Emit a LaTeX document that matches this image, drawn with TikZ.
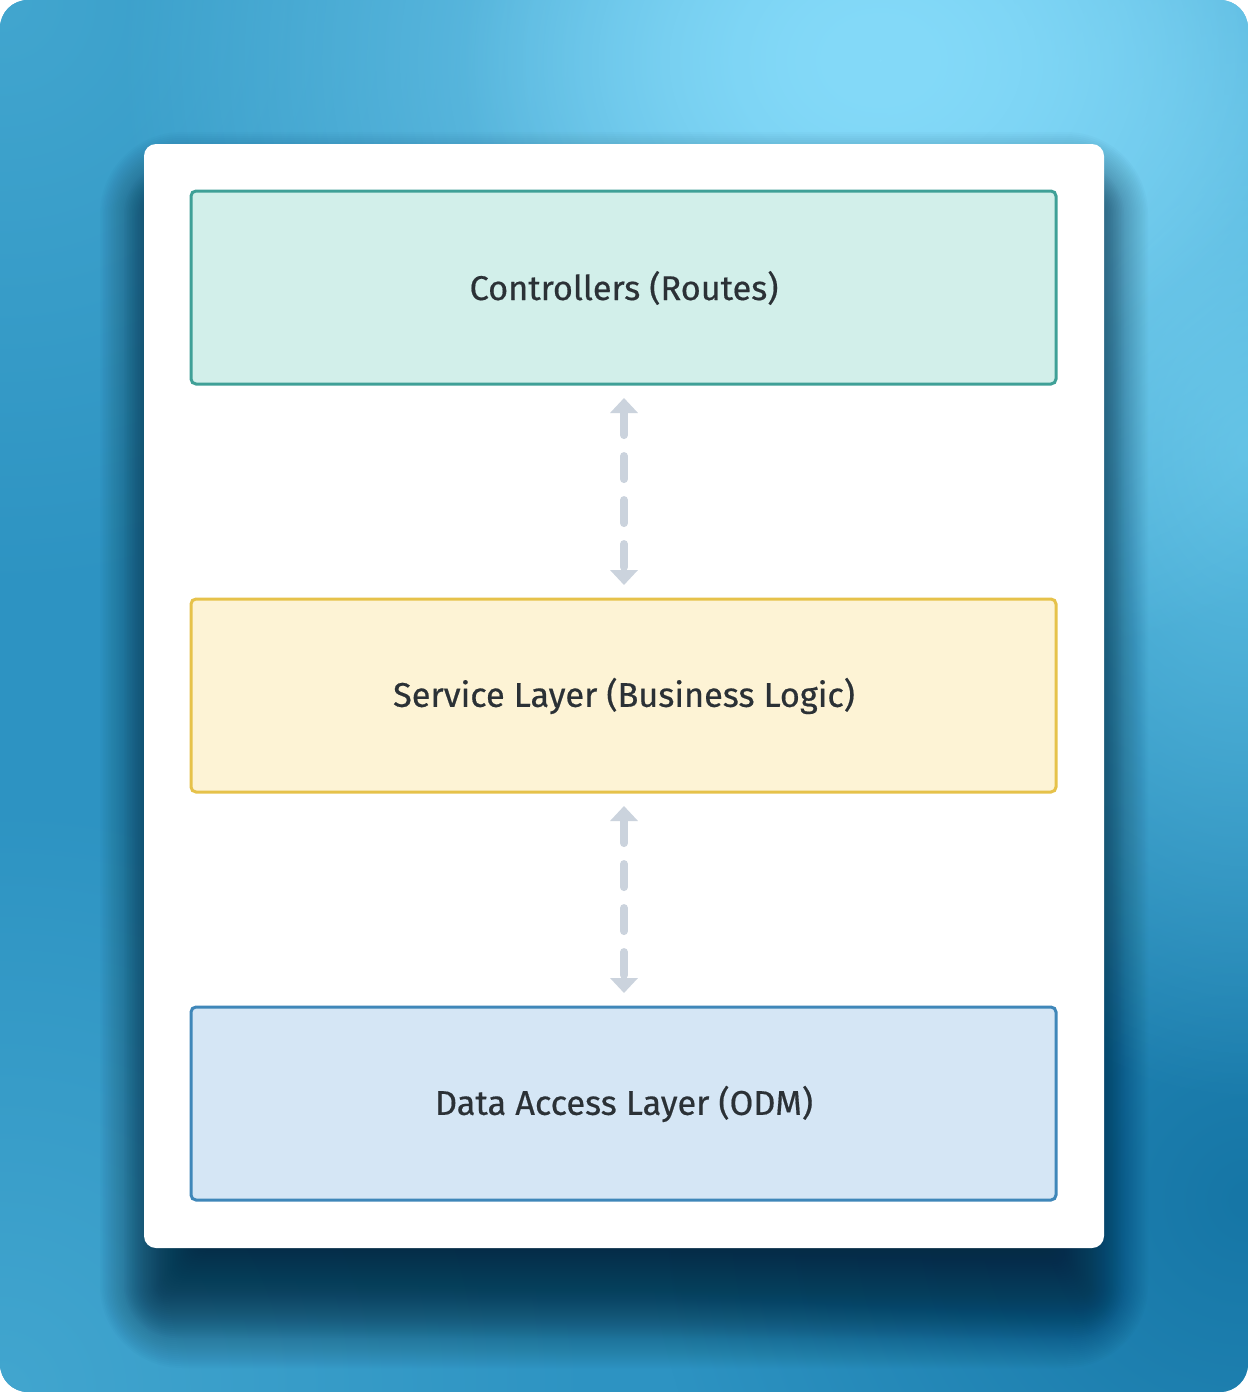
\documentclass[tikz,border=0pt]{standalone}
\usepackage{fontspec}
\setmainfont{Fira Sans}
\newfontfamily\lblfont{Fira Sans}[FakeBold=0.5]
\usetikzlibrary{arrows.meta,fadings}
\definecolor{bgbase}{HTML}{2D93C2}
\definecolor{bgglow}{HTML}{84DAF9}
\definecolor{bgright}{HTML}{5CBDE1}
\definecolor{bgleft}{HTML}{42A6CF}
\definecolor{bgdark}{HTML}{1676A6}
\definecolor{shadowcol}{HTML}{052C44}
\definecolor{txt}{HTML}{2B3136}
\definecolor{tealB}{HTML}{3FA097}
\definecolor{tealF}{HTML}{D2EFEA}
\definecolor{yelB}{HTML}{E6C24A}
\definecolor{yelF}{HTML}{FDF3D5}
\definecolor{bluB}{HTML}{3F87B9}
\definecolor{bluF}{HTML}{D5E6F5}
\definecolor{arrowcol}{HTML}{CBD3DD}
\tikzfading[name=glowfade, inner color=transparent!0, outer color=transparent!100]
\begin{document}
\begin{tikzpicture}[x=1pt,y=-1pt,
  layerbox/.style={draw=#1B, fill=#1F, line width=3pt, rounded corners=5pt},
  layertext/.style={text=txt, font=\lblfont\fontsize{34.3}{39}\selectfont},
  conn/.style={arrowcol, line width=8pt, line cap=round, dash pattern=on 23pt off 21pt,
    {Triangle[width=27pt,length=15pt]}-{Triangle[width=27pt,length=15pt]}}]
\useasboundingbox (0,0) rectangle (1248,1392);
\begin{scope}
  \clip[rounded corners=28pt] (0,0) rectangle (1248,1392);
  \fill[bgbase] (0,0) rectangle (1248,1392);
  \fill[bgleft, path fading=glowfade] (0,0) circle (600);
  \fill[bgleft, path fading=glowfade] (0,1392) circle (600);
  \fill[bgdark, path fading=glowfade] (1248,1200) circle (600);
  \fill[bgright, path fading=glowfade] (1248,450) ellipse (450 and 650);
  \fill[bgglow, path fading=glowfade] (880,60) ellipse (760 and 620);
  \fill[bgglow, path fading=glowfade] (880,60) ellipse (420 and 330);
  \foreach \i in {0,...,59}{
    \pgfmathsetmacro{\e}{70-\i*2}
    \pgfmathsetmacro{\ex}{\e*0.8}
    \pgfmathsetmacro{\op}{\i<15 ? 0.018 : 0.04}
    \pgfmathsetmacro{\rr}{12+max(\e,0)}
    \fill[shadowcol, opacity=\op, rounded corners=\rr pt]
      (156-\ex,144-\e+58) rectangle (1092+\ex,1248+\e+50);
  }
\end{scope}
\node[draw=none, fill=white, rounded corners=12pt, minimum width=960pt, minimum height=1104pt,
  inner sep=0pt] (card) at (624,696) {};
\draw[layerbox=teal] (191,191) rectangle (1056,384);
\node[layertext] (ctrl) at (624,288) {Controllers (Routes)};
\draw[layerbox=yel] (191,599) rectangle (1056,792);
\node[layertext] (svc) at (624,696) {Service Layer (Business Logic)};
\draw[layerbox=blu] (191,1007) rectangle (1056,1200);
\node[layertext] (dal) at (624,1104) {Data Access Layer (ODM)};
\coordinate (a1t) at (624,398);
\coordinate (a1b) at (624,585);
\coordinate (a2t) at (624,806);
\coordinate (a2b) at (624,993);
\draw[conn] (a1t) -- (a1b);
\draw[conn] (a2t) -- (a2b);
\end{tikzpicture}
\end{document}
